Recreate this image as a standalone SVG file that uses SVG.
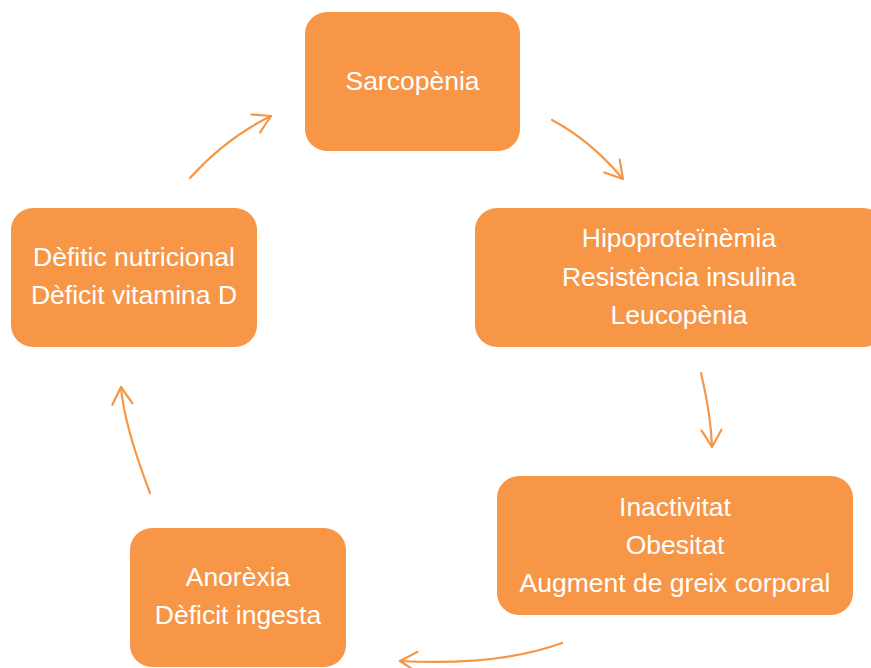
<svg xmlns="http://www.w3.org/2000/svg" width="871" height="668" viewBox="0 0 871 668">
  <style>
    .box { fill: #F79646; }
    .lbl { fill: #FFFFFF; font-family: "Liberation Sans", Arial, sans-serif; font-size: 26.5px; text-anchor: middle; }
    .arc { fill: none; stroke: #F79646; stroke-width: 2.2; stroke-linecap: round; marker-end: url(#open); }
  </style>
  <defs>
    <marker id="open" markerUnits="userSpaceOnUse" markerWidth="40" markerHeight="40" viewBox="-25 -20 30 40" refX="0" refY="0" orient="auto">
      <path d="M-17,-10 L0,0 L-17,10" fill="none" stroke="#F79646" stroke-width="2.2" stroke-linecap="round" stroke-linejoin="round"/>
    </marker>
  </defs>
  <rect width="871" height="668" fill="#FFFFFF"/>

  <!-- cycle arrows -->
  <g id="connectors">
    <path class="arc" d="M190,178 Q226,138 271,116"/>
    <path class="arc" d="M552,120 Q590,140 623,179"/>
    <path class="arc" d="M701,373 Q711,415 712,447"/>
    <path class="arc" d="M562,643 Q499,666 400,661"/>
    <path class="arc" d="M150,493 Q124,425 121,387"/>
  </g>

  <g id="sarcopenia">
    <rect class="box" x="305" y="12" width="215" height="139" rx="22"/>
    <text class="lbl" x="412.5" y="90">Sarcopènia</text>
  </g>

  <g id="hipoproteinemia">
    <rect class="box" x="475" y="208" width="410" height="139" rx="22"/>
    <text class="lbl" x="679" y="247">Hipoproteïnèmia</text>
    <text class="lbl" x="679" y="286">Resistència insulina</text>
    <text class="lbl" x="679" y="324">Leucopènia</text>
  </g>

  <g id="inactivitat">
    <rect class="box" x="497" y="476" width="356" height="139" rx="22"/>
    <text class="lbl" x="675" y="516">Inactivitat</text>
    <text class="lbl" x="675" y="554">Obesitat</text>
    <text class="lbl" x="675" y="592">Augment de greix corporal</text>
  </g>

  <g id="anorexia">
    <rect class="box" x="130" y="528" width="216" height="139" rx="22"/>
    <text class="lbl" x="238" y="586">Anorèxia</text>
    <text class="lbl" x="238" y="624">Dèficit ingesta</text>
  </g>

  <g id="deficit-nutricional">
    <rect class="box" x="11" y="208" width="246" height="139" rx="22"/>
    <text class="lbl" x="134" y="266">Dèfitic nutricional</text>
    <text class="lbl" x="134" y="304">Dèficit vitamina D</text>
  </g>
</svg>
